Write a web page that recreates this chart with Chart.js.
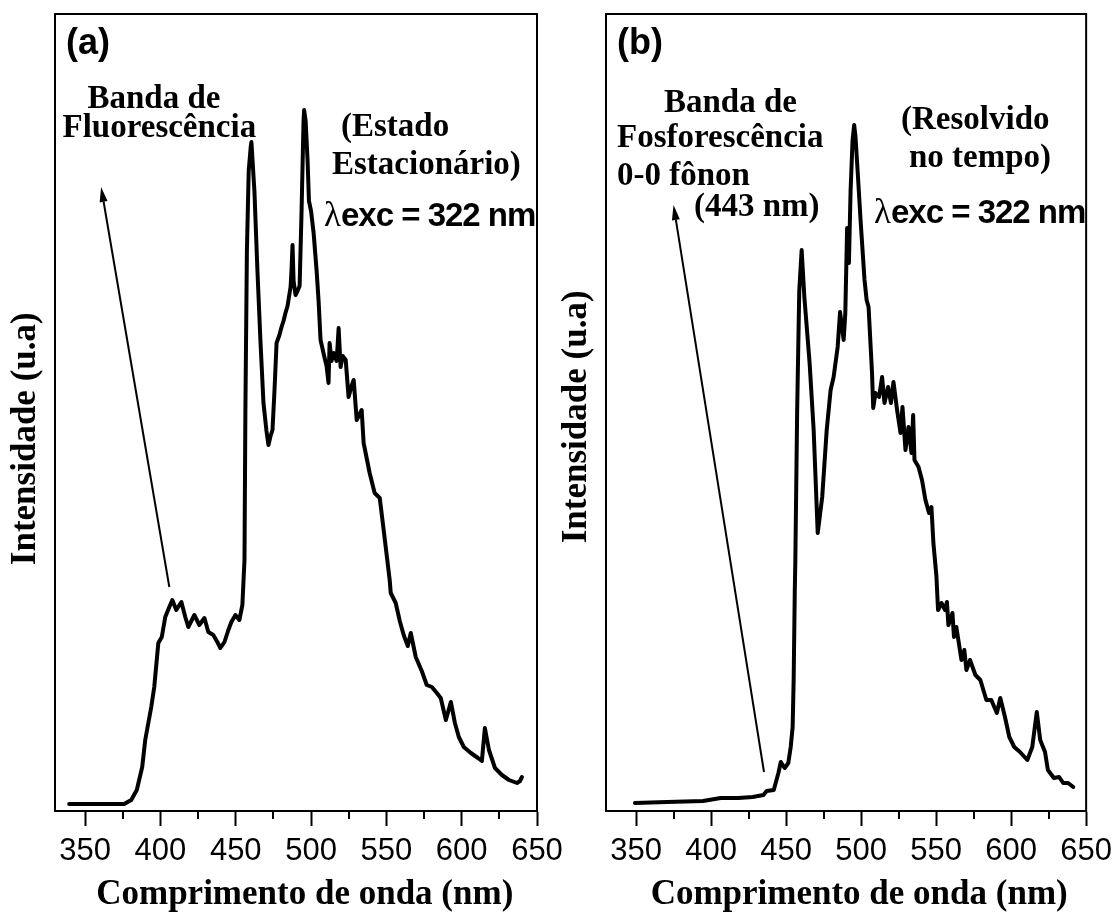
<!DOCTYPE html>
<html><head><meta charset="utf-8">
<script src="https://cdn.jsdelivr.net/npm/chart.js@4.4.0/dist/chart.umd.min.js"></script>
<style>
html,body{margin:0;padding:0;background:#fff;}
#wrap{position:relative;width:1119px;height:916px;overflow:hidden;background:#fff;}
canvas{position:absolute;top:0;}
#ca{left:0;} #cb{left:545px;}
</style></head><body>
<div id="wrap"><canvas id="ca" width="575" height="916"></canvas><canvas id="cb" width="574" height="916"></canvas></div>
<script>
// ---- Data (wavelength in nm, intensity in arbitrary units) ----
const wavelengthA = [339.4,375.9,380.6,384.3,387.9,389.9,393.9,395.9,398.6,400.9,403.2,405.9,407.9,410.5,413.9,416.5,418.5,422.5,425.8,429.2,431.8,435.1,437.8,439.8,442.5,445.1,447.1,449.8,452.4,454.4,455.8,456.4,457.4,458.6,460.0,460.4,462.4,464.4,466.4,468.4,470.4,471.7,473.1,474.4,475.7,477.1,479.0,480.4,481.7,483.0,484.4,485.0,486.4,487.0,487.7,488.4,489.7,491.0,492.4,493.7,495.0,495.4,496.4,497.7,498.6,500.0,501.7,503.7,505.0,506.3,509.0,510.3,511.6,512.3,513.6,515.0,517.0,518.3,519.6,521.0,523.0,524.9,526.9,528.3,530.3,533.6,534.9,538.9,542.2,545.6,548.2,552.2,552.9,556.2,558.9,561.5,564.2,566.2,569.5,573.5,576.8,580.2,583.5,586.1,589.5,592.8,595.5,598.1,601.4,606.1,610.8,613.4,615.4,618.1,622.1,626.7,631.4,636.7,638.7,640.0];
const intensityA  = [7,7,11,21,44,71,104,124,168,174,194,204,211,201,209,194,184,196,186,193,179,176,169,163,169,181,189,196,191,206,251,400,560,640,665,669,620,540,470,408,380,366,375,381,420,468,476,484,490,498,505,511,524,540,566,530,516,520,525,600,690,701,690,650,610,600,578,540,510,471,453,445,428,468,450,458,450,483,444,455,451,414,425,431,391,401,368,338,318,313,281,231,218,208,190,176,165,178,154,140,126,124,118,113,91,109,88,74,64,58,53,50,83,61,43,36,31,28,30,34];

const wavelengthB = [349.3,370.6,394.6,406.5,418.2,427.8,434.9,437.1,441.8,444.9,446.5,449.1,451.5,453.1,454.4,455.1,455.8,456.2,457.4,458.8,460.4,462.2,465.7,468.4,471.1,474.1,477.1,479.7,481.7,484.4,486.0,488.4,489.5,490.7,491.9,493.0,494.3,495.4,496.3,497.7,499.7,502.3,503.7,505.0,507.3,508.1,509.6,512.0,514.0,515.6,518.0,519.9,521.6,524.0,526.3,527.6,529.6,531.6,533.6,534.7,535.6,538.3,540.6,542.9,545.3,546.9,548.2,550.2,551.3,553.6,556.0,557.2,558.2,560.9,561.9,563.5,566.9,568.8,570.2,572.6,576.2,579.5,583.5,586.8,590.5,592.8,595.9,598.8,602.1,605.9,610.8,614.1,617.1,619.4,622.6,624.5,628.5,632.0,634.7,638.0,641.4];
const intensityB  = [8,9,10,13,13,14,16,20,21,38,49,43,48,64,84,134,218,251,400,520,561,514,448,381,278,314,381,421,434,464,499,471,498,583,548,620,670,686,674,640,590,531,511,504,438,403,418,414,434,408,424,408,429,401,378,404,361,384,358,396,351,344,331,311,298,304,268,235,201,208,201,209,186,198,174,184,151,161,141,151,136,131,111,111,98,113,94,74,64,59,51,64,99,71,59,41,33,34,28,28,24];

const xTickLabels = [350, 400, 450, 500, 550, 600, 650];
const xTitle = 'Comprimento de onda (nm)';
const yTitle = 'Intensidade (u.a)';

const SERIF = '"Liberation Serif", "Times New Roman", serif';
const SANS = '"Liberation Sans", Arial, sans-serif';
const annFont = 'bold 33px ' + SERIF;
const lamFont = 'bold 33px ' + SANS;
const lamGlyphFont = '35px ' + SERIF;
const tagFont = 'bold 36px ' + SANS;

const textsA = [
  {text:'(a)', x:66, y:54, font:tagFont},
  {text:'Banda de', x:87.5, y:108, font:annFont},
  {text:'Fluorescência', x:62.5, y:137, font:annFont},
  {text:'(Estado', x:341, y:136, font:annFont},
  {text:'Estacionário)', x:332, y:174, font:annFont},
  {parts:[{text:'λ', font:lamGlyphFont},{text:'exc = 322 nm', font:lamFont, ls:'-1px'}], x:324, y:226}
];
const textsB = [
  {text:'(b)', x:617, y:54, font:tagFont},
  {text:'Banda de', x:664, y:112, font:annFont},
  {text:'Fosforescência', x:617, y:147, font:annFont},
  {text:'0-0 fônon', x:617, y:185, font:annFont},
  {text:'(443 nm)', x:694, y:216, font:annFont},
  {text:'(Resolvido', x:901, y:129, font:annFont},
  {text:'no tempo)', x:909, y:167, font:annFont},
  {parts:[{text:'λ', font:lamGlyphFont},{text:'exc = 322 nm', font:lamFont, ls:'-1px'}], x:874, y:223}
];
// arrows in data coordinates [nm, intensity]
const arrowA = {from:[405.9, 224], to:[360.6, 624]};
const arrowB = {from:[435.3, 39], to:[375.0, 606]};

const isMajor = v => xTickLabels.includes(Math.round(v));

const decorPlugin = {
  id: 'decor',
  afterDraw(chart, args, opts) {
    const {ctx, chartArea: ca} = chart;
    const x = chart.scales.x, y = chart.scales.y;
    ctx.save();
    ctx.strokeStyle = '#000';
    ctx.fillStyle = '#000';
    ctx.lineWidth = 2;
    ctx.strokeRect(ca.left, ca.top, ca.right - ca.left, ca.bottom - ca.top);
    // minor ticks
    x.ticks.forEach(t => {
      if (!isMajor(t.value)) {
        const px = Math.round(x.getPixelForValue(t.value));
        ctx.beginPath(); ctx.moveTo(px, ca.bottom); ctx.lineTo(px, ca.bottom + 8); ctx.stroke();
      }
    });
    // texts
    ctx.textAlign = 'left';
    ctx.textBaseline = 'alphabetic';
    opts.texts.forEach(t => {
      const parts = t.parts || [{text: t.text, font: t.font, ls: t.ls}];
      let cx = t.x - opts.offset;
      parts.forEach(p => {
        ctx.font = p.font;
        ctx.letterSpacing = p.ls || '0px';
        ctx.fillText(p.text, cx, t.y);
        cx += ctx.measureText(p.text).width;
      });
    });
    ctx.letterSpacing = '0px';
    // arrow
    const a = opts.arrow;
    const x1 = x.getPixelForValue(a.from[0]), y1 = y.getPixelForValue(a.from[1]);
    const x2 = x.getPixelForValue(a.to[0]), y2 = y.getPixelForValue(a.to[1]);
    const ang = Math.atan2(y2 - y1, x2 - x1);
    const L = 15, W = 4;
    const bx = x2 - L * Math.cos(ang), by = y2 - L * Math.sin(ang);
    ctx.lineWidth = 2;
    ctx.beginPath(); ctx.moveTo(x1, y1); ctx.lineTo(bx, by); ctx.stroke();
    ctx.beginPath();
    ctx.moveTo(x2, y2);
    ctx.lineTo(bx + W * Math.sin(ang), by - W * Math.cos(ang));
    ctx.lineTo(bx - W * Math.sin(ang), by + W * Math.cos(ang));
    ctx.closePath(); ctx.fill();
    ctx.restore();
  }
};

function makeChart(id, wl, inten, cfg) {
  return new Chart(document.getElementById(id), {
    type: 'line',
    data: {
      datasets: [{
        data: wl.map((w, i) => ({x: w, y: inten[i]})),
        borderColor: '#000', borderWidth: 4, pointRadius: 0, tension: 0, fill: false,
        borderJoinStyle: 'round', borderCapStyle: 'round'
      }]
    },
    options: {
      responsive: false, animation: false, devicePixelRatio: 1,
      layout: {padding: {left: 0, right: cfg.padRight, top: 14, bottom: 0}},
      scales: {
        x: {
          type: 'linear', position: 'bottom', min: 330, max: 650,
          afterFit: s => { s.height = 105; },
          ticks: {
            stepSize: 25, includeBounds: false, autoSkip: false, maxRotation: 0, minRotation: 0,
            padding: 7, color: '#000', font: {family: SANS, size: 31},
            callback: v => isMajor(v) ? String(Math.round(v)) : ''
          },
          grid: {
            drawOnChartArea: false, drawTicks: true, tickLength: 15, tickWidth: 2,
            tickColor: c => (c.tick && isMajor(c.tick.value)) ? '#000' : 'rgba(0,0,0,0)'
          },
          border: {display: true, color: '#000', width: 2},
          title: {display: true, text: cfg.xTitle, color: '#000',
            font: {family: SERIF, size: 35, weight: 'bold'}, padding: {top: 0, bottom: 0}}
        },
        y: {
          type: 'linear', min: 0, max: 797,
          afterFit: s => { s.width = cfg.yWidth; },
          ticks: {display: false}, grid: {display: false}, border: {display: false},
          title: {display: true, text: cfg.yTitle, color: '#000',
            font: {family: SERIF, size: 35, weight: 'bold'}, padding: {top: cfg.yPad, bottom: 0}}
        }
      },
      plugins: {legend: {display: false}, tooltip: {enabled: false}, decor: cfg.decor}
    },
    plugins: [decorPlugin]
  });
}

makeChart('ca', wavelengthA, intensityA, {
  padRight: 38, yWidth: 55, yPad: 5,
  xTitle: '  ' + xTitle, yTitle: yTitle + '      ',
  decor: {texts: textsA, arrow: arrowA, offset: 0}
});
makeChart('cb', wavelengthB, intensityB, {
  padRight: 32, yWidth: 61, yPad: 11,
  xTitle: '   ' + xTitle, yTitle: yTitle + ' ',
  decor: {texts: textsB, arrow: arrowB, offset: 545}
});
</script>
</body></html>
